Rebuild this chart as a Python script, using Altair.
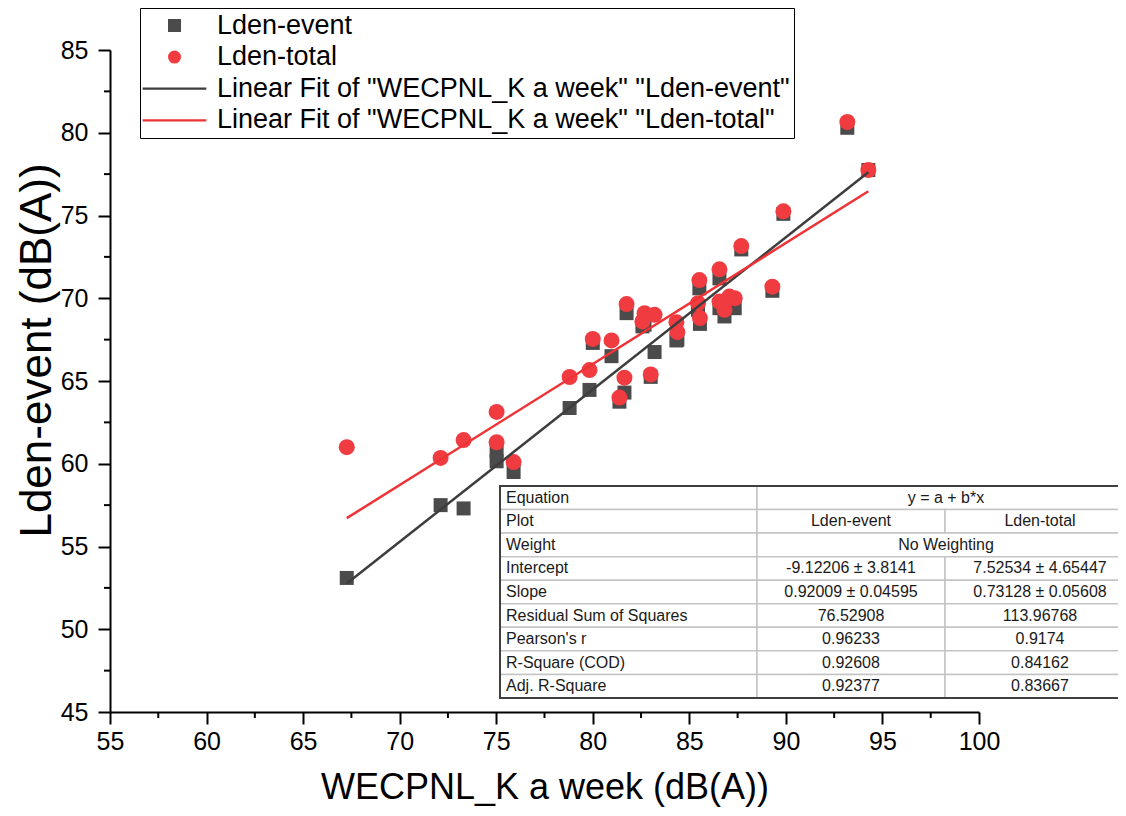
import altair as alt
import pandas as pd

# ---------------- data ----------------
wecpnl = [67.26, 72.12, 73.31, 75.02, 75.02, 75.90, 78.80, 79.83, 80.00, 80.97,
          81.38, 81.64, 81.75, 82.57, 82.68, 83.00, 83.20, 84.33, 84.38, 85.52,
          85.45, 85.55, 86.56, 86.56, 86.82, 87.07, 87.35, 87.69, 89.30, 89.87,
          93.18, 94.27]
lden_event = [53.10, 57.50, 57.30, 60.80, 60.15, 59.50, 63.37, 64.46, 67.30, 66.50,
              63.75, 64.30, 69.10, 68.30, 68.40, 65.25, 66.75, 67.45, 67.50, 70.60,
              69.30, 68.45, 71.20, 69.40, 68.90, 69.70, 69.40, 72.95, 70.45, 75.10,
              80.30, 77.75]
lden_total = [61.00, 60.35, 61.43, 63.13, 61.30, 60.10, 65.24, 65.66, 67.54, 67.45,
              64.00, 65.20, 69.65, 68.60, 69.10, 65.40, 69.00, 68.55, 67.95, 71.10,
              69.70, 68.80, 71.75, 69.80, 69.30, 70.10, 70.00, 73.15, 70.70, 75.25,
              80.65, 77.75]

series_names = ["Lden-event", "Lden-total",
                'Linear Fit of "WECPNL_K a week" "Lden-event"',
                'Linear Fit of "WECPNL_K a week" "Lden-total"']

fit_intercept = [-9.12206, 7.52534]
fit_slope = [0.92009, 0.73128]

x_ticks = [55, 60, 65, 70, 75, 80, 85, 90, 95, 100]
y_ticks = [45, 50, 55, 60, 65, 70, 75, 80, 85]
x_minor = [57.5, 62.5, 67.5, 72.5, 77.5, 82.5, 87.5, 92.5, 97.5]
y_minor = [47.5, 52.5, 57.5, 62.5, 67.5, 72.5, 77.5, 82.5]

table_labels = ["Equation", "Plot", "Weight", "Intercept", "Slope",
                "Residual Sum of Squares", "Pearson's r", "R-Square (COD)",
                "Adj. R-Square"]
table_merged = ["y = a + b*x", None, "No Weighting", None, None, None, None, None, None]
table_event = [None, "Lden-event", None, "-9.12206 ± 3.8141", "0.92009 ± 0.04595",
               "76.52908", "0.96233", "0.92608", "0.92377"]
table_total = [None, "Lden-total", None, "7.52534 ± 4.65447", "0.73128 ± 0.05608",
               "113.96768", "0.9174", "0.84162", "0.83667"]

# ---------------- layout / style ----------------
FONT = "Liberation Sans"
W, H = 869, 662
GRAY, RED = "#4b4b4b", "#f03c40"
LGRAY, LRED = "#3d3d3d", "#ee3236"
LINE_PATH = "M-4.9,-0.17H4.9V0.17H-4.9Z"
T_EDGES = [390, 647, 835, 1025]
T_TOP, T_RH = 436, 23.55

n = len(wecpnl)
points = pd.DataFrame({
    "x": wecpnl + wecpnl,
    "y": lden_event + lden_total,
    "series": [series_names[0]] * n + [series_names[1]] * n,
})

fit_rows = []
for i in range(2):
    for xv in (min(wecpnl), max(wecpnl)):
        fit_rows.append({"x": xv, "a": fit_intercept[i], "b": fit_slope[i],
                         "series": series_names[2 + i]})
fit = pd.DataFrame(fit_rows)

cells = []
for r in range(len(table_labels)):
    cells.append({"row": r, "c0": 0, "c1": 1, "text": table_labels[r]})
    if table_merged[r] is not None:
        cells.append({"row": r, "c0": 1, "c1": 3, "text": table_merged[r]})
    else:
        cells.append({"row": r, "c0": 1, "c1": 2, "text": table_event[r]})
        cells.append({"row": r, "c0": 2, "c1": 3, "text": table_total[r]})
cells = pd.DataFrame(cells)

xscale = alt.Scale(domain=[55, 100], nice=False, zero=False)
yscale = alt.Scale(domain=[45, 85], nice=False, zero=False)

common_axis = dict(grid=False, domainColor="black", domainWidth=2, tickColor="black",
                   tickWidth=2, tickSize=12, labelFont=FONT, labelFontSize=25,
                   labelColor="black", titleFont=FONT, titleFontWeight="normal",
                   titleColor="black", labelFlush=False)

X = alt.X("x:Q", scale=xscale,
          axis=alt.Axis(values=x_ticks, title="WECPNL_K a week (dB(A))",
                        titleFontSize=36, labelPadding=5, titleY=86,
                        titleBaseline="alphabetic", **common_axis))
Y = alt.Y("y:Q", scale=yscale,
          axis=alt.Axis(values=y_ticks, title="Lden-event (dB(A))",
                        titleFontSize=44, labelPadding=10, titleX=-60, titleY=300,
                        titleAngle=270, titleAlign="center",
                        titleBaseline="alphabetic", **common_axis))

legend = alt.Legend(title=None, orient="none", legendX=30, legendY=-42,
                    labelFont=FONT, labelFontSize=27, labelColor="black",
                    labelLimit=1000, symbolSize=169, symbolOffset=17,
                    labelOffset=29, rowPadding=3.6, padding=4,
                    strokeColor="black", fillColor="white", symbolStrokeWidth=0)

color = alt.Color("series:N", scale=alt.Scale(domain=series_names,
                                              range=[GRAY, RED, LGRAY, LRED]),
                  legend=legend)
shape = alt.Shape("series:N", scale=alt.Scale(domain=series_names,
                                              range=["square", "circle", LINE_PATH, LINE_PATH]),
                  legend=legend)

minor_x = alt.Chart(pd.DataFrame({"x": x_minor})).mark_rule(
    color="black", strokeWidth=2).encode(x=X, y=alt.value(H), y2=alt.value(H + 6))
minor_y = alt.Chart(pd.DataFrame({"y": y_minor})).mark_rule(
    color="black", strokeWidth=2).encode(y=Y, x=alt.value(-6), x2=alt.value(0))

base_pts = alt.Chart(points)
squares = base_pts.transform_filter(alt.datum.series == series_names[0]).mark_point(
    filled=True, size=196, opacity=1, strokeWidth=0).encode(x=X, y=Y, color=color, shape=shape)
circles = base_pts.transform_filter(alt.datum.series == series_names[1]).mark_point(
    filled=True, size=256, opacity=1, strokeWidth=0).encode(x=X, y=Y, color=color, shape=shape)

lines = alt.Chart(fit).transform_calculate(
    y="datum.a + datum.b * datum.x").mark_line(strokeWidth=2.5).encode(
    x=X, y=Y, color=color)

edges_expr = "[" + ",".join(str(e) for e in T_EDGES) + "]"
tbl = alt.Chart(cells).transform_calculate(
    x0=f"{edges_expr}[datum.c0]",
    x1=f"{edges_expr}[datum.c1]",
    y0=f"{T_TOP} + datum.row * {T_RH}",
    y1=f"{T_TOP} + (datum.row + 1) * {T_RH}",
    yc=f"{T_TOP} + (datum.row + 0.5) * {T_RH}",
    tx="datum.c0 == 0 ? datum.x0 + 6 : (datum.x0 + datum.x1) / 2",
)
tbl_rect = tbl.mark_rect(fill="white", stroke="#c4c4c4", strokeWidth=1.5).encode(
    x=alt.X("x0:Q", scale=None), x2="x1:Q",
    y=alt.Y("y0:Q", scale=None), y2="y1:Q")
tbl_left = tbl.transform_filter("datum.c0 == 0").mark_text(
    align="left", baseline="middle", font=FONT, fontSize=16, color="#1a1a1a").encode(
    x=alt.X("tx:Q", scale=None), y=alt.Y("yc:Q", scale=None), text="text:N")
tbl_center = tbl.transform_filter("datum.c0 > 0").mark_text(
    align="center", baseline="middle", font=FONT, fontSize=16, color="#1a1a1a").encode(
    x=alt.X("tx:Q", scale=None), y=alt.Y("yc:Q", scale=None), text="text:N")

border = alt.Chart(pd.DataFrame({"k": [0]})).transform_calculate(
    x0=f"{T_EDGES[0]}", x1=f"{T_EDGES[-1]}",
    y0=f"{T_TOP}", y1=f"{T_TOP} + {len(table_labels)} * {T_RH}",
).mark_rect(filled=False, stroke="#404040", strokeWidth=2).encode(
    x=alt.X("x0:Q", scale=None), x2="x1:Q",
    y=alt.Y("y0:Q", scale=None), y2="y1:Q")

chart = alt.layer(minor_x, minor_y, squares, circles, lines,
                  tbl_rect, tbl_left, tbl_center, border).properties(
    width=W, height=H,
    autosize=alt.AutoSizeParams(type="none"),
    padding={"left": 102, "top": 42, "right": 139, "bottom": 95},
).configure_view(stroke=None)

chart.save("out.html", embed_options={"renderer": "svg", "actions": False})
